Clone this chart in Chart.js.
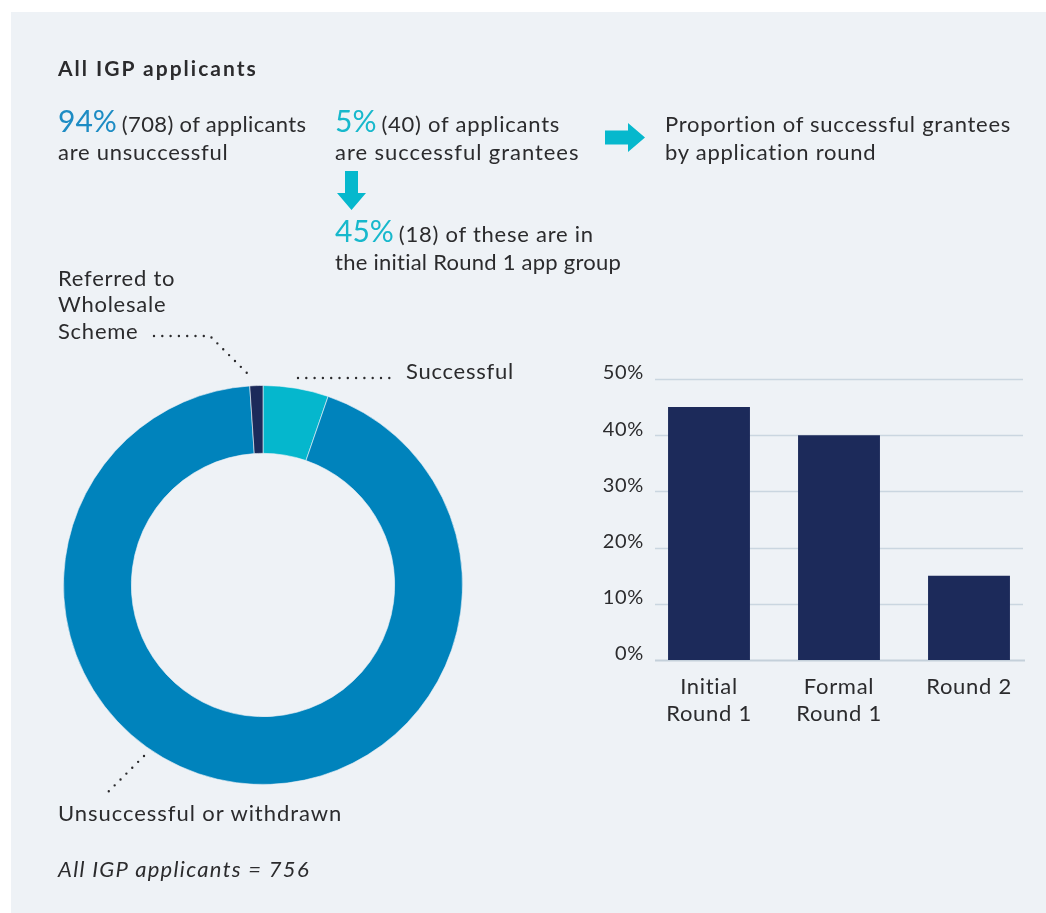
<!DOCTYPE html>
<html>
<head>
<meta charset="utf-8">
<script src="https://cdn.jsdelivr.net/npm/chart.js@4.4.1/dist/chart.umd.min.js"></script>
<style>
  html, body { margin: 0; padding: 0; background: #ffffff; }
  body { width: 1046px; height: 913px; position: relative; overflow: hidden; font-family: Lato, "Open Sans", sans-serif; }
  #panel { position: absolute; left: 11px; top: 12px; width: 1035px; height: 901px; background: #eef2f6; }
  #donut { position: absolute; left: 63px; top: 385px; }
  #bars { position: absolute; left: 560px; top: 355px; }
  #overlay { position: absolute; left: 0; top: 0; }
  svg text { font-family: Lato, "Open Sans", sans-serif; fill: #2b2b2d; letter-spacing: 0.75px; }
</style>
</head>
<body>
<div id="panel"></div>
<canvas id="donut" width="400" height="400"></canvas>
<canvas id="bars" width="486" height="400"></canvas>
<svg id="overlay" width="1046" height="913" xmlns="http://www.w3.org/2000/svg">
  <text x="58" y="76" font-size="21" font-weight="700" style="letter-spacing:2px">All IGP applicants</text>

  <text x="58" y="132"><tspan id="pctUnsuccessful" font-size="30" style="fill:#1d8cc4;letter-spacing:0"></tspan><tspan id="cntUnsuccessful" font-size="22" dx="5" style="letter-spacing:0.35px"></tspan></text>
  <text x="58" y="160" font-size="22">are unsuccessful</text>

  <text x="335" y="132"><tspan id="pctSuccessful" font-size="30" style="fill:#17b8cc;letter-spacing:0"></tspan><tspan id="cntSuccessful" font-size="22" dx="5"></tspan></text>
  <text x="335" y="160" font-size="22" style="letter-spacing:0.95px">are successful grantees</text>

  <polygon points="345,171 358,171 358,193 366,193 351.5,210 337,193 345,193" fill="#06b8cd"/>

  <text x="335" y="242"><tspan id="pctRound1" font-size="30" style="fill:#17b8cc;letter-spacing:0"></tspan><tspan id="cntRound1" font-size="22" dx="5"></tspan></text>
  <text x="335" y="270" font-size="22" style="letter-spacing:0.25px">the initial Round 1 app group</text>

  <polygon points="605,130.5 628,130.5 628,123 645,137.5 628,152 628,144.5 605,144.5" fill="#06b8cd"/>
  <text x="665" y="132" font-size="22">Proportion of successful grantees</text>
  <text x="665" y="160" font-size="22">by application round</text>

  <text x="58" y="286" font-size="22">Referred to</text>
  <text x="58" y="312" font-size="22">Wholesale</text>
  <text x="58" y="339" font-size="22">Scheme</text>
  <polyline points="154,336 210,336 247,373" fill="none" stroke="#2b2b2d" stroke-width="2.4" stroke-linecap="round" stroke-dasharray="0 8.3"/>

  <line x1="298" y1="378" x2="392" y2="378" stroke="#2b2b2d" stroke-width="2.4" stroke-linecap="round" stroke-dasharray="0 8.3"/>
  <text x="406" y="379" font-size="22">Successful</text>

  <line x1="144" y1="756" x2="103" y2="797" stroke="#2b2b2d" stroke-width="2.4" stroke-linecap="round" stroke-dasharray="0 8.3"/>
  <text x="58" y="821" font-size="22" style="letter-spacing:0.95px">Unsuccessful or withdrawn</text>

  <text id="totalNote" x="58" y="877" font-size="22" font-style="italic" style="letter-spacing:1.3px"></text>
</svg>
<script>
// Applicant outcomes (counts), drawn clockwise from 12 o'clock
const outcomeLabels = ['Successful', 'Unsuccessful or withdrawn', 'Referred to Wholesale Scheme'];
const outcomeCounts = [40, 708, 8];
const outcomeColors = ['#05b7cd', '#0083bc', '#1c2a5a'];

// Share of successful grantees by application round (%)
const roundLabels = [['Initial', 'Round 1'], ['Formal', 'Round 1'], ['Round 2']];
const roundShares = [45, 40, 15];

// Percentage axis
const axisTicks = [0, 10, 20, 30, 40, 50];

const totalApplicants = outcomeCounts.reduce((a, b) => a + b, 0);
const pct = n => Math.round(n / totalApplicants * 100) + '%';

document.getElementById('pctUnsuccessful').textContent = pct(outcomeCounts[1]);
document.getElementById('cntUnsuccessful').textContent = '(' + outcomeCounts[1] + ') of applicants';
document.getElementById('pctSuccessful').textContent = pct(outcomeCounts[0]);
document.getElementById('cntSuccessful').textContent = '(' + outcomeCounts[0] + ') of applicants';
document.getElementById('pctRound1').textContent = roundShares[0] + '%';
document.getElementById('cntRound1').textContent = '(' + Math.round(outcomeCounts[0] * roundShares[0] / 100) + ') of these are in';
document.getElementById('totalNote').textContent = 'All IGP applicants = ' + totalApplicants;

Chart.defaults.font.family = 'Lato, "Open Sans", sans-serif';
Chart.defaults.color = '#2b2b2d';
Chart.defaults.animation = false;

new Chart(document.getElementById('donut'), {
  type: 'doughnut',
  data: {
    labels: outcomeLabels,
    datasets: [{
      data: outcomeCounts,
      backgroundColor: outcomeColors,
      borderColor: 'rgba(238,242,246,0.6)',
      borderWidth: 1
    }]
  },
  options: {
    responsive: false,
    cutout: '66%',
    rotation: 0,
    layout: { padding: 0 },
    plugins: { legend: { display: false }, tooltip: { enabled: false } }
  }
});

// Slightly wider tracking for axis text
const tracking = {
  id: 'tracking',
  beforeDraw(chart) { chart.ctx.letterSpacing = '0.7px'; }
};

// Horizontal guide lines, inset slightly from the plot edges
const guideLines = {
  id: 'guideLines',
  beforeDatasetsDraw(chart) {
    const { ctx, chartArea, scales: { y } } = chart;
    ctx.save();
    y.ticks.forEach(t => {
      const py = Math.round(y.getPixelForValue(t.value)) + 0.5;
      const base = t.value === 0;
      ctx.strokeStyle = base ? '#c4d0da' : '#cad6e0';
      ctx.lineWidth = base ? 2 : 1.5;
      ctx.beginPath();
      ctx.moveTo(chartArea.left + 11, py);
      ctx.lineTo(chartArea.right - (base ? 9 : 11), py);
      ctx.stroke();
    });
    ctx.restore();
  }
};

new Chart(document.getElementById('bars'), {
  type: 'bar',
  data: {
    labels: roundLabels,
    datasets: [{
      data: roundShares,
      backgroundColor: '#1c2a5a',
      barPercentage: 0.63,
      categoryPercentage: 1
    }]
  },
  options: {
    responsive: false,
    layout: { padding: { top: 24, right: 12, left: 0, bottom: 0 } },
    plugins: { legend: { display: false }, tooltip: { enabled: false } },
    scales: {
      x: {
        grid: { display: false, drawTicks: false },
        border: { display: false },
        ticks: { font: { size: 22, lineHeight: 1.23 }, color: '#2b2b2d', padding: 13, maxRotation: 0, autoSkip: false },
        afterFit(scale) { scale.height = 95; }
      },
      y: {
        min: 0, max: 50,
        afterBuildTicks(scale) { scale.ticks = axisTicks.map(v => ({ value: v })); },
        grid: { display: false, drawTicks: false },
        border: { display: false },
        ticks: { font: { size: 20 }, color: '#2b2b2d', padding: 0, labelOffset: -6,
                 callback: v => v + '%' },
        afterFit(scale) { scale.width = 84; }
      }
    }
  },
  plugins: [tracking, guideLines]
});
</script>
</body>
</html>
